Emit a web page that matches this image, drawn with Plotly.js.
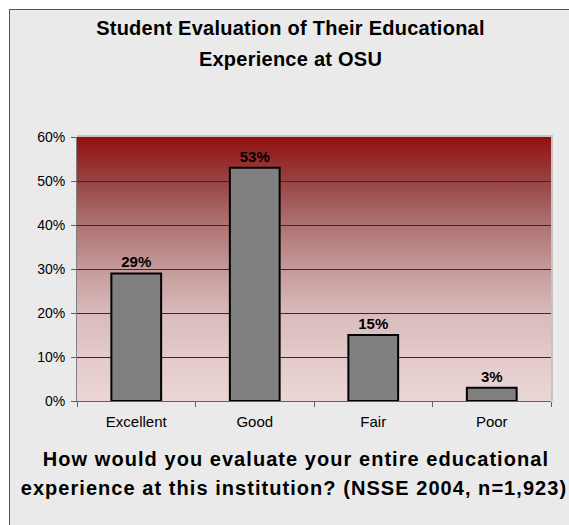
<!DOCTYPE html>
<html>
<head>
<meta charset="utf-8">
<script src="https://cdn.plot.ly/plotly-3.0.1.min.js"></script>
<style>
  html, body { margin: 0; padding: 0; background: #ffffff; }
  #frame { position: absolute; left: 9px; top: 9px; width: 600px; height: 600px;
           border: 1px solid #555555; background: #EAEAEA; }
  #chart { position: absolute; left: 0; top: 0; width: 569px; height: 525px; }
  #chart .annotation[data-index="0"] text, #chart .annotation[data-index="1"] text { letter-spacing: 0.25px; }
  #chart .annotation[data-index="2"] text, #chart .annotation[data-index="3"] text { letter-spacing: 1.05px; }
</style>
</head>
<body>
<div id="frame"></div>
<div id="chart"></div>
<script>
var categories = ["Excellent", "Good", "Fair", "Poor"];
var percentages = [0.29, 0.53, 0.15, 0.03];
var yTickValues = [0, 0.1, 0.2, 0.3, 0.4, 0.5, 0.6];
var titleLines = ["Student Evaluation of Their Educational", "Experience at OSU"];
var questionLines = ["How would you evaluate your entire educational",
                     "experience at this institution? (NSSE 2004, n=1,923)"];

var W = 569, H = 525;
var M = {l: 77, r: 18, t: 137, b: 124};
var plotW = W - M.l - M.r, plotH = H - M.t - M.b;
function px2x(px) { return (px - M.l) / plotW; }
function py2y(py) { return (H - M.b - py) / plotH; }

var gradSvg = "<svg xmlns='http://www.w3.org/2000/svg' width='100' height='100' preserveAspectRatio='none'>" +
  "<defs><linearGradient id='g' x1='0' y1='0' x2='0' y2='1'>" +
  "<stop offset='0' stop-color='#921010'/>" +
  "<stop offset='0.17' stop-color='#984444'/>" +
  "<stop offset='0.33' stop-color='#AE7272'/>" +
  "<stop offset='0.5' stop-color='#C49A9A'/>" +
  "<stop offset='0.67' stop-color='#D9BBBB'/>" +
  "<stop offset='0.83' stop-color='#E4CACA'/>" +
  "<stop offset='1' stop-color='#EBD5D5'/>" +
  "</linearGradient></defs><rect width='100' height='100' fill='url(#g)'/></svg>";
var gradSrc = "data:image/svg+xml;charset=utf-8," + gradSvg.replace(/#/g, "%23");

var fontFam = "Liberation Sans, Arial, sans-serif";

var trace = {
  type: "bar",
  x: categories,
  y: percentages,
  width: 0.42,
  marker: {color: "#808080", line: {color: "#000000", width: 2}},
  text: percentages.map(function (v) { return Math.round(v * 100) + "%"; }),
  textposition: "outside",
  cliponaxis: false,
  textfont: {family: fontFam, size: 15, color: "#000000", weight: "bold"},
  hoverinfo: "x+y"
};

function ann(text, py, pxc, size) {
  return {text: "<b>" + text + "</b>", xref: "paper", yref: "paper",
          x: px2x(pxc), y: py2y(py), xanchor: "center", yanchor: "middle",
          showarrow: false, font: {family: fontFam, size: size, color: "#000000"}};
}

var layout = {
  width: W, height: H,
  margin: M,
  paper_bgcolor: "rgba(0,0,0,0)",
  plot_bgcolor: "rgba(0,0,0,0)",
  showlegend: false,
  font: {family: fontFam, color: "#000000"},
  xaxis: {
    type: "category",
    tickson: "boundaries",
    ticks: "outside", ticklen: 5, tickcolor: "#606060", tickwidth: 1,
    showline: true, linecolor: "#606060", linewidth: 1,
    showgrid: false, zeroline: false,
    ticklabelstandoff: 7,
    tickfont: {family: fontFam, size: 15, color: "#000000"},
    fixedrange: true
  },
  yaxis: {
    range: [0, 0.6],
    tickvals: yTickValues,
    tickformat: ".0%",
    ticks: "outside", ticklen: 5, tickcolor: "#606060", tickwidth: 1,
    showline: true, linecolor: "#808080", linewidth: 1,
    showgrid: true, gridcolor: "#2e2e2e", gridwidth: 1,
    zeroline: false,
    ticklabelstandoff: 3,
    tickfont: {family: fontFam, size: 14, color: "#000000"},
    fixedrange: true
  },
  images: [{
    source: gradSrc, xref: "paper", yref: "paper",
    x: 0, y: 1, sizex: 1, sizey: 1, xanchor: "left", yanchor: "top",
    sizing: "stretch", layer: "below"
  }],
  shapes: [
    {type: "line", xref: "paper", yref: "paper", x0: 0, x1: px2x(553), y0: py2y(136), y1: py2y(136),
     line: {color: "#C4C4C4", width: 2}},
    {type: "line", xref: "paper", yref: "paper", x0: px2x(552), x1: px2x(552), y0: 0, y1: py2y(136),
     line: {color: "#C4C4C4", width: 2}}
  ],
  annotations: [
    ann(titleLines[0], 28, 290, 20),
    ann(titleLines[1], 59, 290, 20),
    ann(questionLines[0], 459, 296, 20),
    ann(questionLines[1], 488, 294, 20)
  ]
};

Plotly.newPlot("chart", [trace], layout, {displayModeBar: false, staticPlot: true});
</script>
</body>
</html>
